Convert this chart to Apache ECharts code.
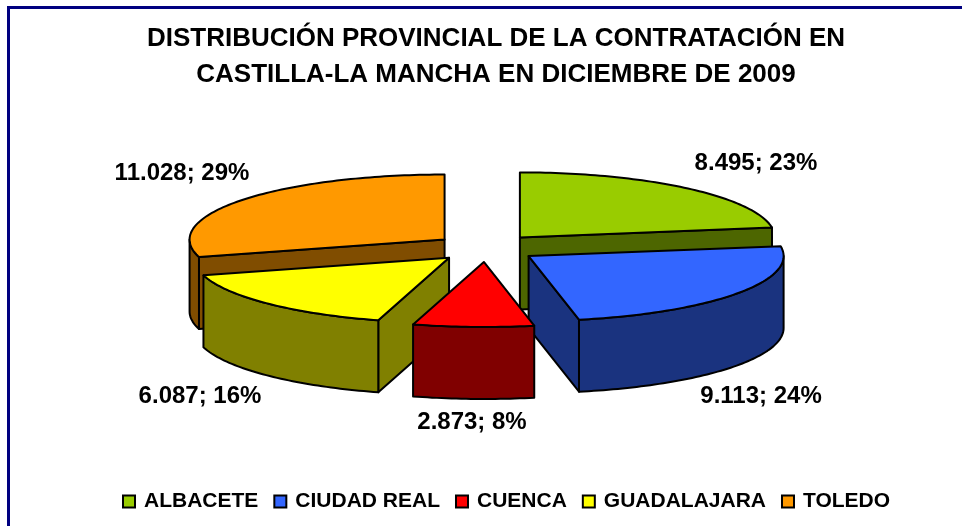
<!DOCTYPE html>
<html lang="es">
<head>
<meta charset="UTF-8">
<title>Contratación Castilla-La Mancha</title>
<style>html,body{margin:0;padding:0;background:#fff}</style>
</head>
<body>
<div id="main" style="width:962px;height:526px;"></div>
<script src="https://cdn.jsdelivr.net/npm/echarts@6/dist/echarts.min.js"></script>
<script>
var provincias = ['ALBACETE', 'CIUDAD REAL', 'CUENCA', 'GUADALAJARA', 'TOLEDO'];
var contratos = [8495, 9113, 2873, 6087, 11028];
var colores = ['#99cc00', '#3366ff', '#ff0000', '#ffff00', '#ff9900'];
var laterales = ['#4d6600', '#1a337f', '#800000', '#808000', '#804d00'];
// centro de cada etiqueta
var posEtiquetas = [[756, 163], [761, 396], [472, 422], [200, 396], [182, 173]];
var ordenDibujo = [0, 4, 1, 3, 2];

// geometria de la tarta 3D
var cx = 486, cy = 248, rx = 255, ry = 65, alto = 72, sepX = 52, sepY = 14;
var total = contratos.reduce(function (a, b) { return a + b; }, 0);

function punto(ox, oy, ang, dy) {
    return [ox + rx * Math.sin(ang), oy - ry * Math.cos(ang) + (dy || 0)];
}

function arco(ox, oy, a, b, dy) {
    var pts = [];
    var n = Math.max(2, Math.ceil((b - a) / 0.02));
    for (var i = 0; i <= n; i++) {
        pts.push(punto(ox, oy, a + (b - a) * i / n, dy));
    }
    return pts;
}

function etiqueta(v) {
    var s = String(v).replace(/\B(?=(\d{3})+$)/g, '.');
    return s + '; ' + Math.round(v / total * 100) + '%';
}

function porcion(idx) {
    var antes = 0;
    for (var i = 0; i < idx; i++) antes += contratos[i];
    var a = antes / total * 2 * Math.PI;
    var b = (antes + contratos[idx]) / total * 2 * Math.PI;
    var m = (a + b) / 2;
    var ox = cx + sepX * Math.sin(m);
    var oy = cy - sepY * Math.cos(m);

    function cara(pts, color) {
        return {
            type: 'polygon',
            shape: { points: pts },
            style: { fill: color, stroke: '#000', lineWidth: 2, lineJoin: 'round' }
        };
    }

    function pared(ang) {
        var p = punto(ox, oy, ang);
        return cara([[ox, oy], p, [p[0], p[1] + alto], [ox, oy + alto]], laterales[idx]);
    }

    return function () {
        var hijos = [];
        // paredes radiales que miran al espectador
        if (Math.sin(a) < -0.001) hijos.push(pared(a));
        if (Math.sin(b) > 0.001) hijos.push(pared(b));
        // pared exterior, solo la mitad delantera
        var f0 = Math.max(a, Math.PI / 2), f1 = Math.min(b, 3 * Math.PI / 2);
        if (f1 > f0) {
            hijos.push(cara(arco(ox, oy, f0, f1, 0).concat(arco(ox, oy, f0, f1, alto).reverse()), laterales[idx]));
        }
        // cara superior
        hijos.push(cara([[ox, oy]].concat(arco(ox, oy, a, b, 0)), colores[idx]));
        hijos.push({
            type: 'text',
            z2: 10,
            style: {
                text: etiqueta(contratos[idx]),
                x: posEtiquetas[idx][0],
                y: posEtiquetas[idx][1],
                fill: '#000',
                fontFamily: 'Liberation Sans',
                fontWeight: 'bold',
                fontSize: 24,
                align: 'center',
                verticalAlign: 'middle'
            }
        });
        return { type: 'group', children: hijos };
    };
}

var chart = echarts.init(document.getElementById('main'), null, { renderer: 'canvas' });
chart.setOption({
    animation: false,
    backgroundColor: '#fff',
    title: {
        text: 'DISTRIBUCIÓN PROVINCIAL DE LA CONTRATACIÓN EN\nCASTILLA-LA MANCHA EN DICIEMBRE DE 2009',
        left: 491,
        top: 16,
        textAlign: 'center',
        textStyle: {
            fontFamily: 'Liberation Sans',
            fontWeight: 'bold',
            fontSize: 26,
            lineHeight: 36,
            color: '#000'
        }
    },
    legend: {
        data: provincias,
        left: 117,
        top: 486,
        icon: 'rect',
        itemWidth: 12,
        itemHeight: 12,
        itemGap: 15,
        selectedMode: false,
        textStyle: {
            fontFamily: 'Liberation Sans',
            fontWeight: 'bold',
            fontSize: 21,
            color: '#000',
            padding: [0, 0, 0, 4]
        }
    },
    graphic: [{
        type: 'polyline',
        silent: true,
        shape: { points: [[8.5, 526], [8.5, 7.5], [962, 7.5]] },
        style: { fill: 'none', stroke: '#000080', lineWidth: 3 }
    }],
    series: ordenDibujo.map(function (idx) {
        return {
            type: 'custom',
            name: provincias[idx],
            coordinateSystem: 'none',
            silent: true,
            itemStyle: { color: colores[idx], borderColor: '#000', borderWidth: 1 },
            data: [[contratos[idx]]],
            renderItem: porcion(idx)
        };
    })
});
</script>
</body>
</html>
